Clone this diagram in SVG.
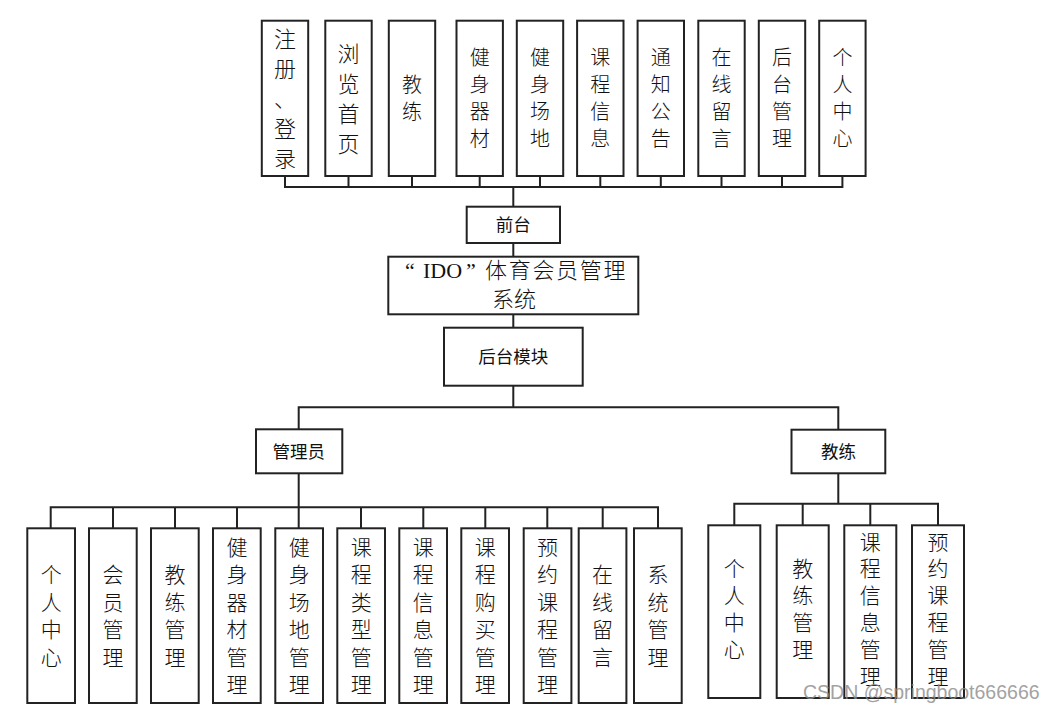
<svg xmlns="http://www.w3.org/2000/svg" width="1054" height="711" viewBox="0 0 1054 711">
<style>
.box{fill:#fff;stroke:#222;stroke-width:2}
.ln{fill:none;stroke:#222;stroke-width:2}
.v{font-family:"Noto Sans CJK SC","Noto Sans",sans-serif;font-weight:300;fill:#111;text-anchor:middle}
.t20{font-size:20px}
.t21{font-size:21px}
.t22{font-size:22px}
.lab{font-family:"Noto Sans CJK SC","Noto Sans",sans-serif;font-size:17.5px;fill:#111;text-anchor:middle}
.title{font-family:"Noto Sans CJK SC",sans-serif;font-weight:300;font-size:22px;fill:#111}
.lat{font-family:"Liberation Serif",serif;font-weight:normal}
.wm{font-family:"Liberation Sans",Arial,sans-serif;font-size:19.5px;fill:#8c8c8c;opacity:0.8}
</style>
<rect width="1054" height="711" fill="#fff"/>
<g id="connectors">
<path class="ln" d="M285 176V187H842.4V176M348.5 176V187M412 176V187M479.7 176V187M540 176V187M600.3 176V187M660.8 176V187M721.5 176V187M782 176V187M513.3 187V206.7"/>
<path class="ln" d="M513.3 243V256.7M513.3 314.3V327.7M513.3 385.7V407.3M298.7 429.3V407.3H838.3V429.7"/>
<path class="ln" d="M298.7 473.3V507.3M50.7 528.3V507.3H658V528.3M113 507.3V528.3M175 507.3V528.3M237 507.3V528.3M298.7 507.3V528.3M361 507.3V528.3M423.3 507.3V528.3M485.3 507.3V528.3M547.3 507.3V528.3M602.7 507.3V528.3"/>
<path class="ln" d="M838.3 473.3V503.7M734.3 525.3V503.7H938V525.3M802.7 503.7V525.3M870.3 503.7V525.3"/>
</g>
<g id="f1"><rect class="box" x="261.8" y="20.7" width="46.4" height="155.3"/><text class="v t22"><tspan x="285" y="47.4">注</tspan><tspan x="285" y="77.4">册</tspan><tspan x="285" y="107.4">、</tspan><tspan x="285" y="137.4">登</tspan><tspan x="285" y="167.4">录</tspan></text></g>
<g id="f2"><rect class="box" x="325.3" y="20.7" width="46.4" height="155.3"/><text class="v t22"><tspan x="348.5" y="62.4">浏</tspan><tspan x="348.5" y="92.4">览</tspan><tspan x="348.5" y="122.4">首</tspan><tspan x="348.5" y="152.4">页</tspan></text></g>
<g id="f3"><rect class="box" x="388.8" y="20.7" width="46.4" height="155.3"/><text class="v t20"><tspan x="412" y="92.1">教</tspan><tspan x="412" y="119.1">练</tspan></text></g>
<g id="f4"><rect class="box" x="456.5" y="20.7" width="46.4" height="155.3"/><text class="v t20"><tspan x="479.7" y="65.1">健</tspan><tspan x="479.7" y="92.1">身</tspan><tspan x="479.7" y="119.1">器</tspan><tspan x="479.7" y="146.1">材</tspan></text></g>
<g id="f5"><rect class="box" x="516.8" y="20.7" width="46.4" height="155.3"/><text class="v t20"><tspan x="540" y="65.1">健</tspan><tspan x="540" y="92.1">身</tspan><tspan x="540" y="119.1">场</tspan><tspan x="540" y="146.1">地</tspan></text></g>
<g id="f6"><rect class="box" x="577.1" y="20.7" width="46.4" height="155.3"/><text class="v t20"><tspan x="600.3" y="65.1">课</tspan><tspan x="600.3" y="92.1">程</tspan><tspan x="600.3" y="119.1">信</tspan><tspan x="600.3" y="146.1">息</tspan></text></g>
<g id="f7"><rect class="box" x="637.6" y="20.7" width="46.4" height="155.3"/><text class="v t20"><tspan x="660.8" y="65.1">通</tspan><tspan x="660.8" y="92.1">知</tspan><tspan x="660.8" y="119.1">公</tspan><tspan x="660.8" y="146.1">告</tspan></text></g>
<g id="f8"><rect class="box" x="698.3" y="20.7" width="46.4" height="155.3"/><text class="v t20"><tspan x="721.5" y="65.1">在</tspan><tspan x="721.5" y="92.1">线</tspan><tspan x="721.5" y="119.1">留</tspan><tspan x="721.5" y="146.1">言</tspan></text></g>
<g id="f9"><rect class="box" x="758.8" y="20.7" width="46.4" height="155.3"/><text class="v t20"><tspan x="782" y="65.1">后</tspan><tspan x="782" y="92.1">台</tspan><tspan x="782" y="119.1">管</tspan><tspan x="782" y="146.1">理</tspan></text></g>
<g id="f10"><rect class="box" x="819.2" y="20.7" width="46.4" height="155.3"/><text class="v t20"><tspan x="842.4" y="65.1">个</tspan><tspan x="842.4" y="92.1">人</tspan><tspan x="842.4" y="119.1">中</tspan><tspan x="842.4" y="146.1">心</tspan></text></g>
<g id="qiantai"><rect class="box" x="466.7" y="206.7" width="93.3" height="36.3"/><text class="lab" x="513.3" y="231.3">前台</text></g>
<g id="system"><rect class="box" x="388.3" y="256.7" width="250" height="57.6"/><text class="title" y="278.4"><tspan class="lat" x="405">“</tspan><tspan class="lat" x="423">IDO</tspan><tspan class="lat" x="466">”</tspan><tspan x="485" letter-spacing="1.7">体育会员管理</tspan></text><text class="title" x="514" y="306.7" text-anchor="middle">系统</text></g>
<g id="houtai"><rect class="box" x="444" y="327.7" width="138.7" height="58"/><text class="lab" x="513.3" y="363.3">后台模块</text></g>
<g id="admin"><rect class="box" x="256" y="429.3" width="86.3" height="44"/><text class="lab" x="298.7" y="457.9">管理员</text></g>
<g id="coach"><rect class="box" x="791.5" y="429.7" width="93.8" height="43.6"/><text class="lab" x="838.5" y="458.2">教练</text></g>
<g id="a1"><rect class="box" x="27.3" y="528.3" width="47.7" height="174.7"/><text class="v t21"><tspan x="51.2" y="582.3">个</tspan><tspan x="51.2" y="609.8">人</tspan><tspan x="51.2" y="637.3">中</tspan><tspan x="51.2" y="664.8">心</tspan></text></g>
<g id="a2"><rect class="box" x="89" y="528.3" width="47.7" height="174.7"/><text class="v t21"><tspan x="112.9" y="582.3">会</tspan><tspan x="112.9" y="609.8">员</tspan><tspan x="112.9" y="637.3">管</tspan><tspan x="112.9" y="664.8">理</tspan></text></g>
<g id="a3"><rect class="box" x="151" y="528.3" width="47.7" height="174.7"/><text class="v t21"><tspan x="174.9" y="582.3">教</tspan><tspan x="174.9" y="609.8">练</tspan><tspan x="174.9" y="637.3">管</tspan><tspan x="174.9" y="664.8">理</tspan></text></g>
<g id="a4"><rect class="box" x="213" y="528.3" width="47.7" height="174.7"/><text class="v t21"><tspan x="236.9" y="554.8">健</tspan><tspan x="236.9" y="582.3">身</tspan><tspan x="236.9" y="609.8">器</tspan><tspan x="236.9" y="637.3">材</tspan><tspan x="236.9" y="664.8">管</tspan><tspan x="236.9" y="692.3">理</tspan></text></g>
<g id="a5"><rect class="box" x="275.3" y="528.3" width="47.7" height="174.7"/><text class="v t21"><tspan x="299.2" y="554.8">健</tspan><tspan x="299.2" y="582.3">身</tspan><tspan x="299.2" y="609.8">场</tspan><tspan x="299.2" y="637.3">地</tspan><tspan x="299.2" y="664.8">管</tspan><tspan x="299.2" y="692.3">理</tspan></text></g>
<g id="a6"><rect class="box" x="337.3" y="528.3" width="47.7" height="174.7"/><text class="v t21"><tspan x="361.2" y="554.8">课</tspan><tspan x="361.2" y="582.3">程</tspan><tspan x="361.2" y="609.8">类</tspan><tspan x="361.2" y="637.3">型</tspan><tspan x="361.2" y="664.8">管</tspan><tspan x="361.2" y="692.3">理</tspan></text></g>
<g id="a7"><rect class="box" x="399.3" y="528.3" width="47.7" height="174.7"/><text class="v t21"><tspan x="423.2" y="554.8">课</tspan><tspan x="423.2" y="582.3">程</tspan><tspan x="423.2" y="609.8">信</tspan><tspan x="423.2" y="637.3">息</tspan><tspan x="423.2" y="664.8">管</tspan><tspan x="423.2" y="692.3">理</tspan></text></g>
<g id="a8"><rect class="box" x="461.3" y="528.3" width="47.7" height="174.7"/><text class="v t21"><tspan x="485.2" y="554.8">课</tspan><tspan x="485.2" y="582.3">程</tspan><tspan x="485.2" y="609.8">购</tspan><tspan x="485.2" y="637.3">买</tspan><tspan x="485.2" y="664.8">管</tspan><tspan x="485.2" y="692.3">理</tspan></text></g>
<g id="a9"><rect class="box" x="523.7" y="528.3" width="47.7" height="174.7"/><text class="v t21"><tspan x="547.5" y="554.8">预</tspan><tspan x="547.5" y="582.3">约</tspan><tspan x="547.5" y="609.8">课</tspan><tspan x="547.5" y="637.3">程</tspan><tspan x="547.5" y="664.8">管</tspan><tspan x="547.5" y="692.3">理</tspan></text></g>
<g id="a10"><rect class="box" x="578.7" y="528.3" width="47.7" height="174.7"/><text class="v t21"><tspan x="602.6" y="582.3">在</tspan><tspan x="602.6" y="609.8">线</tspan><tspan x="602.6" y="637.3">留</tspan><tspan x="602.6" y="664.8">言</tspan></text></g>
<g id="a11"><rect class="box" x="634" y="528.3" width="47.7" height="174.7"/><text class="v t21"><tspan x="657.9" y="582.3">系</tspan><tspan x="657.9" y="609.8">统</tspan><tspan x="657.9" y="637.3">管</tspan><tspan x="657.9" y="664.8">理</tspan></text></g>
<g id="c1"><rect class="box" x="708.3" y="525.3" width="52" height="172.7"/><text class="v t21"><tspan x="734.3" y="576.3">个</tspan><tspan x="734.3" y="603.1">人</tspan><tspan x="734.3" y="629.9">中</tspan><tspan x="734.3" y="656.7">心</tspan></text></g>
<g id="c2"><rect class="box" x="776.7" y="525.3" width="52" height="172.7"/><text class="v t21"><tspan x="802.7" y="576.3">教</tspan><tspan x="802.7" y="603.1">练</tspan><tspan x="802.7" y="629.9">管</tspan><tspan x="802.7" y="656.7">理</tspan></text></g>
<g id="c3"><rect class="box" x="844.3" y="525.3" width="52" height="172.7"/><text class="v t21"><tspan x="870.3" y="549.5">课</tspan><tspan x="870.3" y="576.3">程</tspan><tspan x="870.3" y="603.1">信</tspan><tspan x="870.3" y="629.9">息</tspan><tspan x="870.3" y="656.7">管</tspan><tspan x="870.3" y="683.5">理</tspan></text></g>
<g id="c4"><rect class="box" x="912" y="525.3" width="52" height="172.7"/><text class="v t21"><tspan x="938" y="549.5">预</tspan><tspan x="938" y="576.3">约</tspan><tspan x="938" y="603.1">课</tspan><tspan x="938" y="629.9">程</tspan><tspan x="938" y="656.7">管</tspan><tspan x="938" y="683.5">理</tspan></text></g>
<text class="wm" x="803" y="699">CSDN @springboot666666</text>
</svg>
